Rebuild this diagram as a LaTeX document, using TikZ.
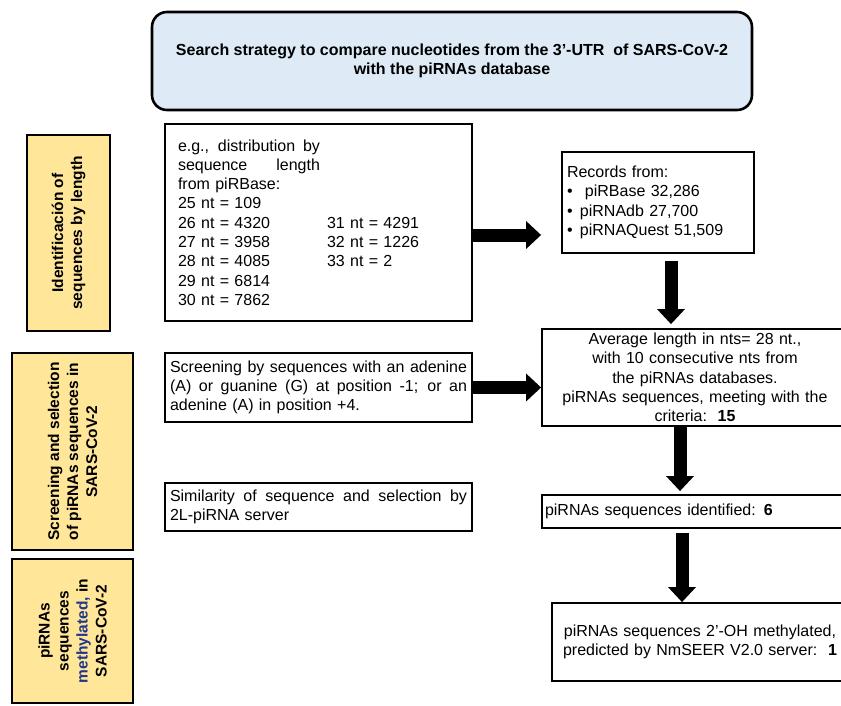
\documentclass[tikz,border=0pt]{standalone}
\usepackage{fontspec}
\setmainfont{Liberation Sans}
\usetikzlibrary{arrows.meta}

\definecolor{titleblue}{RGB}{222,235,247}
\definecolor{laneyellow}{RGB}{255,230,153}
\definecolor{darkblue}{RGB}{32,56,140}

% a line stretched to a given width
\newcommand{\justline}[2]{\leavevmode\hbox to #1{\spaceskip=.278em plus 1fil\relax #2}}

\tikzset{
  plainbox/.style={draw=black,line width=1.8pt,fill=white,font=\fontsize{16}{19.3}\selectfont,inner ysep=0pt},
  lanebox/.style={draw=black,line width=1.8pt,fill=laneyellow,rotate=90,align=center,
    font=\fontsize{15.5}{19}\selectfont\bfseries,inner sep=0pt},
  blockarrow/.style={line width=13pt,-{Triangle[length=15pt,width=27pt]}}
}

\begin{document}
\begin{tikzpicture}[x=1pt,y=-1pt]
\clip (0,0) rectangle (841,706);
% The title
\node[draw=black,line width=2.6pt,fill=titleblue,rounded corners=15pt,minimum width=600pt,minimum height=98pt,
  align=center,font=\fontsize{16}{19}\selectfont\bfseries] (title) at (452,61)
  {Search strategy to compare nucleotides from the 3’-UTR\ \ of SARS-CoV-2\\with the piRNAs database};
% The lanes
\node[lanebox,minimum width=196pt,minimum height=83pt] (lane1) at (68.5,233)
  {Identificación of\\sequences by length};
\node[lanebox,minimum width=197pt,minimum height=121pt] (lane2) at (72.5,451.5)
  {Screening and selection\\of piRNAs sequences in\\SARS-CoV-2};
\node[lanebox,minimum width=144pt,minimum height=121pt] (lane3) at (72.5,631)
  {piRNAs\\sequences\\{\color{darkblue}methylated,} in\\SARS-CoV-2};
% The left boxes
\node[plainbox,minimum width=307pt,minimum height=197pt,text width=281pt,inner xsep=13pt,align=left] (eg) at (318.5,222.5)
  {\justline{142pt}{e.g., distribution by}\\
   \justline{142pt}{sequence length}\\
   from piRBase:\\
   25 nt = 109\\
   \makebox[149pt][l]{26 nt = 4320}31 nt = 4291\\
   \makebox[149pt][l]{27 nt = 3958}32 nt = 1226\\
   \makebox[149pt][l]{28 nt = 4085}33 nt = 2\\
   29 nt = 6814\\
   30 nt = 7862};
\node[plainbox,minimum width=307pt,minimum height=69pt,text width=297pt,inner xsep=5pt,align=left] (scr) at (318.5,387.5)
  {\justline{297pt}{Screening by sequences with an adenine}\\
   \justline{297pt}{(A) or guanine (G) at position -1; or an}\\
   adenine (A) in position +4.};
\node[plainbox,minimum width=307pt,minimum height=48pt,text width=297pt,inner xsep=5pt,align=left] (sim) at (318.5,507)
  {\justline{297pt}{Similarity of sequence and selection by}\\
   2L-piRNA server};
% The right boxes
\node[plainbox,minimum width=192pt,minimum height=101pt,text width=182pt,inner xsep=5pt,align=left] (rec) at (658,202.5)
  {Records from:\\
   \makebox[18pt][l]{\textbullet}piRBase 32,286\\
   \makebox[13pt][l]{\textbullet}piRNAdb 27,700\\
   \makebox[13pt][l]{\textbullet}piRNAQuest 51,509};
\node[plainbox,minimum width=306pt,minimum height=97pt,text width=296pt,inner xsep=5pt,align=center] (avg) at (695,377.5)
  {Average length in nts= 28 nt.,\\
   with 10 consecutive nts from\\
   the piRNAs databases.\\
   piRNAs sequences, meeting with the\\
   criteria:\ \ \textbf{15}};
\node[plainbox,minimum width=306pt,minimum height=33pt,text width=300pt,inner xsep=3pt,align=left] (ident) at (695,511.5)
  {piRNAs sequences identified: \textbf{6}};
\node[plainbox,minimum width=296pt,minimum height=78pt,text width=286pt,inner xsep=5pt,align=center] (meth) at (700,642)
  {piRNAs sequences 2’-OH methylated,\\
   predicted by NmSEER V2.0 server:\ \ \textbf{1}};
% The arrows
\draw[blockarrow] ([yshift=-12.5pt]eg.east) -- ([yshift=-12.5pt]eg.east -| avg.west);
\draw[blockarrow] (scr.east) -- (scr.east -| avg.west);
\draw[blockarrow,shorten <=7pt,shorten >=4pt] ([xshift=13pt]rec.south) -- ([xshift=13pt]rec.south |- avg.north);
\draw[blockarrow,shorten >=3pt] ([xshift=-15pt]avg.south) -- ([xshift=-15pt]avg.south |- ident.north);
\draw[blockarrow,shorten <=4pt] ([xshift=-13pt]ident.south) -- ([xshift=-13pt]ident.south |- meth.north);
\end{tikzpicture}
\end{document}
